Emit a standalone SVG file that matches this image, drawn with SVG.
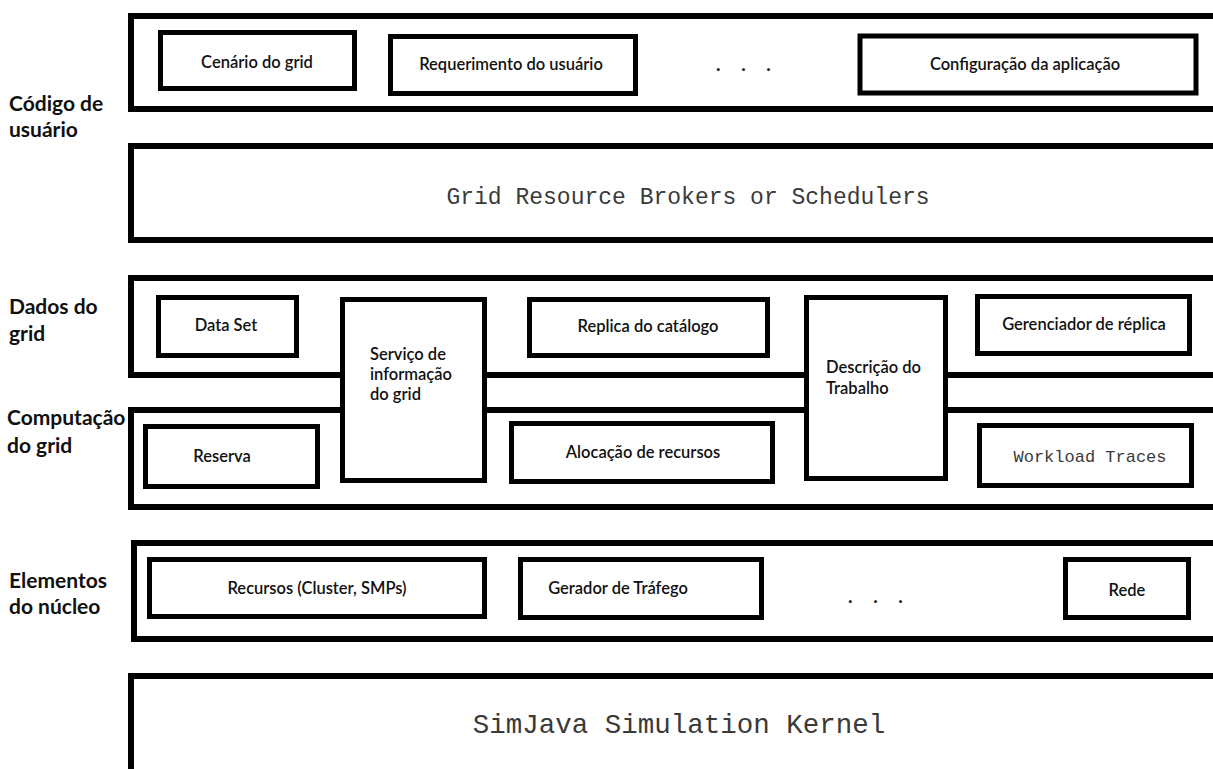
<svg xmlns="http://www.w3.org/2000/svg" width="1213" height="769" viewBox="0 0 1213 769">
<style>
.layer{fill:#fff;stroke:#000;stroke-width:6}
.box{fill:#fff;stroke:#000;stroke-width:5}
.lbl{font-family:Lato,"Liberation Sans",sans-serif;font-size:16.5px;font-weight:600;fill:#111;text-anchor:middle}
.lbl-l{font-family:Lato,"Liberation Sans",sans-serif;font-size:16.5px;font-weight:600;fill:#111}
.side{font-family:Lato,"Liberation Sans",sans-serif;font-size:21px;font-weight:700;fill:#111}
.dots{font-family:Lato,"Liberation Sans",sans-serif;font-size:19px;font-weight:700;fill:#222;letter-spacing:8px}
.mono{font-family:"Liberation Mono","Courier New",monospace;fill:#3a3a3a;text-anchor:middle}
</style>
<rect width="1213" height="769" fill="#fff"/>

<g id="label-codigo"><text class="side" x="9" y="111">Código de</text><text class="side" x="9" y="137">usuário</text></g>
<g id="label-dados"><text class="side" x="9" y="314">Dados do</text><text class="side" x="9" y="341">grid</text></g>
<g id="label-computacao"><text class="side" x="7" y="425">Computação</text><text class="side" x="7" y="453">do grid</text></g>
<g id="label-elementos"><text class="side" x="9" y="588">Elementos</text><text class="side" x="9" y="614">do núcleo</text></g>

<g id="layer-user">
<rect class="layer" x="131" y="16" width="1100" height="93"/>
</g>
<g id="cenario"><rect class="box" x="160.5" y="32.5" width="194" height="56"/><text class="lbl" x="257" y="68">Cenário do grid</text></g>
<g id="requerimento"><rect class="box" x="390.5" y="36.5" width="245" height="57"/><text class="lbl" x="511" y="70">Requerimento do usuário</text></g>
<g id="dots-top"><text class="dots" x="716" y="71">. . .</text></g>
<g id="configuracao"><rect class="box" x="860" y="36" width="336" height="57"/><text class="lbl" x="1025" y="70">Configuração da aplicação</text></g>

<g id="brokers">
<rect class="layer" x="131" y="146" width="1100" height="94"/>
<text class="mono" x="688" y="204" font-size="23">Grid Resource Brokers or Schedulers</text>
</g>

<g id="layer-dados"><rect class="layer" x="131" y="278" width="1100" height="97"/></g>
<g id="layer-computacao"><rect class="layer" x="131" y="410" width="1100" height="97"/></g>

<g id="dataset"><rect class="box" x="158.5" y="297.5" width="138" height="58"/><text class="lbl" x="226" y="331">Data Set</text></g>
<g id="replica"><rect class="box" x="529.5" y="299.5" width="238" height="56"/><text class="lbl" x="648" y="332">Replica do catálogo</text></g>
<g id="gerenciador"><rect class="box" x="977.5" y="296.5" width="212" height="57"/><text class="lbl" x="1084" y="330">Gerenciador de réplica</text></g>

<g id="servico"><rect class="box" x="342.5" y="299.5" width="142" height="181"/>
<text class="lbl-l" x="370" y="360">Serviço de</text><text class="lbl-l" x="370" y="380">informação</text><text class="lbl-l" x="370" y="400">do grid</text></g>
<g id="descricao"><rect class="box" x="806.5" y="297.5" width="139" height="181"/>
<text class="lbl-l" x="826" y="373">Descrição do</text><text class="lbl-l" x="826" y="394">Trabalho</text></g>

<g id="reserva"><rect class="box" x="145.5" y="426.5" width="172" height="60"/><text class="lbl" x="222" y="462">Reserva</text></g>
<g id="alocacao"><rect class="box" x="511.5" y="423.5" width="261" height="58"/><text class="lbl" x="643" y="458">Alocação de recursos</text></g>
<g id="workload"><rect class="box" x="979.5" y="425.5" width="212" height="60"/><text class="mono" x="1090" y="462" font-size="17">Workload Traces</text></g>

<g id="layer-elementos"><rect class="layer" x="134" y="543" width="1100" height="96"/></g>
<g id="recursos"><rect class="box" x="149.5" y="559.5" width="335" height="57"/><text class="lbl" x="317" y="594">Recursos (Cluster, SMPs)</text></g>
<g id="gerador"><rect class="box" x="520.5" y="559.5" width="241" height="58"/><text class="lbl" x="618" y="594">Gerador de Tráfego</text></g>
<g id="dots-bottom"><text class="dots" x="848" y="603">. . .</text></g>
<g id="rede"><rect class="box" x="1065.5" y="559.5" width="123" height="58"/><text class="lbl" x="1127" y="596">Rede</text></g>

<g id="simjava">
<rect class="layer" x="131" y="676" width="1100" height="200"/>
<text class="mono" x="679" y="733" font-size="27.5">SimJava Simulation Kernel</text>
</g>
<g id="connectors"></g>
</svg>
